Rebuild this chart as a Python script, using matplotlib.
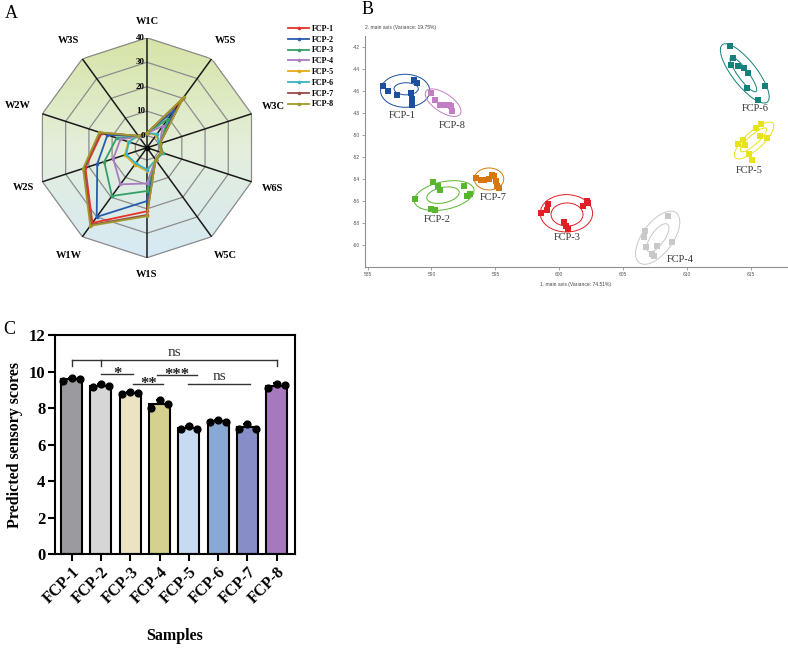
import numpy as np
import matplotlib
matplotlib.use('Agg')
import matplotlib.pyplot as plt
from matplotlib.patches import Ellipse
from matplotlib.colors import LinearSegmentedColormap

plt.rcParams['font.family'] = ['Liberation Serif', 'DejaVu Serif']

samples = ['FCP-1', 'FCP-2', 'FCP-3', 'FCP-4', 'FCP-5', 'FCP-6', 'FCP-7', 'FCP-8']

# ---- A: e-nose radar ----
sensors = ['W1C', 'W5S', 'W3C', 'W6S', 'W5C', 'W1S', 'W1W', 'W2S', 'W2W', 'W3S']
radar_fcp1 = [1.0, 19.0, 0.5, 1.2, 1.0, 21.0, 33.0, 21.5, 14.5, 1.0]
radar_fcp2 = [1.0, 14.0, 0.5, 1.2, 1.0, 16.8, 30.0, 16.4, 12.0, 0.8]
radar_fcp3 = [1.0, 9.5, 0.8, 1.8, 1.2, 12.7, 19.4, 13.4, 8.0, 0.5]
radar_fcp4 = [1.0, 6.0, 0.5, 1.2, 1.0, 9.6, 13.5, 9.5, 6.4, 0.5]
radar_fcp5 = [1.0, 1.5, 0.3, 1.0, 1.0, 4.5, 3.5, 4.5, 3.0, 1.0]
radar_fcp6 = [1.0, 2.0, 0.3, 1.5, 1.2, 3.9, 2.8, 3.9, 2.8, 1.0]
radar_fcp7 = [1.0, 20.0, 0.5, 1.2, 1.0, 22.5, 34.0, 22.0, 15.0, 1.0]
radar_fcp8 = [1.0, 20.5, 0.5, 1.2, 1.0, 23.0, 34.5, 22.5, 15.5, 1.0]
radar_series = [radar_fcp1, radar_fcp2, radar_fcp3, radar_fcp4,
                radar_fcp5, radar_fcp6, radar_fcp7, radar_fcp8]
radar_colors = ['#e5332a', '#2a5cae', '#33a06a', '#a97bc4',
                '#e6a817', '#3bb3c3', '#9b4a4a', '#a09a2c']
radar_rings = [0, 10, 20, 30, 40]

# ---- B: PCA ----
pc1_points = [
    [586.2, 586.6, 587.3, 588.4, 588.6, 588.9, 588.5, 588.5],
    [588.7, 590.1, 590.5, 590.7, 589.95, 590.3, 592.55, 592.8, 593.0],
    [598.6, 599.05, 599.15, 600.35, 600.5, 600.7, 601.85, 602.15, 602.25],
    [606.7, 606.6, 606.8, 607.6, 607.25, 607.4, 608.5, 608.8],
    [614.0, 614.5, 614.35, 614.85, 615.05, 615.4, 615.8, 615.7, 616.2],
    [613.35, 613.55, 613.45, 614.0, 614.45, 614.75, 614.7, 616.05, 615.5],
    [593.45, 593.85, 594.1, 594.5, 594.7, 594.9, 595.05, 595.15, 595.25],
    [590.0, 590.3, 590.7, 591.1, 591.4, 591.5, 591.6],
]
pc2_points = [
    [-45.55, -45.98, -46.34, -46.22, -45.01, -45.25, -46.76, -47.27],
    [-55.8, -54.3, -54.6, -55.0, -56.75, -56.85, -54.65, -55.55, -55.4],
    [-57.05, -56.85, -56.3, -57.9, -58.25, -58.55, -56.45, -56.0, -56.15],
    [-58.7, -59.3, -60.2, -60.1, -60.8, -61.0, -57.35, -59.75],
    [-50.85, -50.95, -50.45, -51.7, -52.3, -49.4, -49.0, -50.05, -50.3],
    [-41.9, -43.0, -43.6, -43.7, -43.95, -44.35, -45.7, -45.55, -46.85],
    [-53.9, -54.05, -54.1, -54.0, -53.6, -53.75, -54.2, -54.65, -54.8],
    [-46.2, -46.8, -47.25, -47.3, -47.3, -47.4, -47.8],
]
pca_colors = ['#1c4fa0', '#5ab52e', '#e31e24', '#c8c8c8',
              '#e8e21c', '#16807a', '#d7780f', '#c27ec2']
ell_cx = [587.94, 590.99, 600.55, 607.69, 615.23, 614.5, 594.5, 590.91]
ell_cy = [-45.98, -55.51, -57.12, -59.34, -50.5, -44.4, -54.0, -47.06]
ell_w = [3.85, 4.8, 4.1, 5.4, 4.3, 6.3, 2.3, 3.4]
ell_h = [3.0, 2.5, 3.4, 2.5, 1.5, 2.0, 2.0, 1.6]
ell_ang = [0, 15, 0, 60, 48, -57, 0, -40]
inner_cx = [588.02, 590.9, 600.6, 607.7, 615.18, 614.39, None, None]
inner_cy = [-45.8, -55.47, -57.23, -59.35, -50.44, -44.49, None, None]
inner_w = [1.9, 2.6, 2.5, 2.9, 2.9, 3.7, None, None]
inner_h = [1.1, 1.4, 2.1, 1.1, 0.8, 0.85, None, None]
inner_ang = [0, 15, 0, 60, 47, -58, None, None]
label_x = [587.68, 590.47, 600.62, 609.48, 614.87, 615.34, 594.84, 591.59]
label_y = [-48.27, -57.72, -59.35, -61.34, -53.2, -47.63, -55.7, -49.17]

# ---- C: predicted sensory scores ----
score_reps = [
    [9.5, 9.65, 9.58],
    [9.14, 9.32, 9.22],
    [8.78, 8.89, 8.82],
    [8.0, 8.45, 8.2],
    [6.84, 7.03, 6.86],
    [7.24, 7.35, 7.26],
    [6.84, 7.13, 6.84],
    [9.09, 9.32, 9.27],
]
bar_colors = ['#9b9b9f', '#d6d6d6', '#ebe3c3', '#d5d08d',
              '#c6dbf1', '#88a9d4', '#878dc6', '#a679bf']
sig_x0 = [1.0, 2.1, 2.9, 3.99]
sig_x1 = [2.1, 3.13, 4.28, 6.08]
sig_y = [9.87, 9.32, 9.82, 9.32]
sig_text = ['*', '**', '***', 'ns']
ns_bracket_x = [0, 1, 7]
ns_bracket_top = 10.64
ns_bracket_drop = 10.3

fig = plt.figure(figsize=(7.88, 6.51), dpi=100)

# ================= A =================
ax_a = fig.add_axes([0.047, 0.604, 0.279, 0.338], projection='polar')
ax_a.set_theta_zero_location('N')
ax_a.set_theta_direction(-1)

n = len(sensors)
theta = np.deg2rad(np.arange(n) * 360 / n)
theta_c = np.append(theta, theta[0])

# gradient fill inside the decagon
bg_cmap = LinearSegmentedColormap.from_list('bg', ['#d6e9f4', '#e4eedb', '#d6e4a6'])
seg = 2 * np.pi / n
t_mesh = np.linspace(0, 2 * np.pi, 721)
f_mesh = np.linspace(0, 1, 40)
T, F = np.meshgrid(t_mesh, f_mesh)
D = 45 * np.cos(seg / 2) / np.cos((T % seg) - seg / 2)
dist = F * D
ax_a.pcolormesh(T, -5 + dist, dist * np.cos(T), cmap=bg_cmap, vmin=-45, vmax=45,
                shading='gouraud', zorder=0)

for v in radar_rings:
    ax_a.plot(theta_c, [v] * (n + 1), color='#8c8c8c', lw=0.9, zorder=1)
for t in theta:
    ax_a.plot([t, t], [-5, 40], color='#1a1a1a', lw=1.1, zorder=2)

for vals, col, name in zip(radar_series, radar_colors, samples):
    ax_a.plot(theta_c, vals + [vals[0]], color=col, lw=1.3, marker='o', ms=1.6,
              label=name, zorder=3)
ax_a.plot(0, -5, 'o', color='black', ms=3, zorder=4)

for v in radar_rings:
    ax_a.annotate(str(v), xy=(0, v), xytext=(-1.5, 0), textcoords='offset points',
                  ha='right', va='center', fontsize=6.5, fontweight='bold', zorder=5)
label_r = [46.5, 49.5, 49.5, 49.0, 49.5, 47.0, 49.5, 48.0, 50.5, 49.5]
for t, name, r in zip(theta, sensors, label_r):
    ax_a.text(t, r, name, ha='center', va='center', fontsize=7.5,
              fontweight='bold', clip_on=False)

ax_a.set_ylim(-5, 40)
ax_a.grid(False)
ax_a.set_xticks([])
ax_a.set_yticks([])
ax_a.spines['polar'].set_visible(False)
ax_a.patch.set_visible(False)

ax_a.legend(loc='upper left', bbox_to_anchor=(0.366, 0.962), bbox_transform=fig.transFigure,
            frameon=False, prop=dict(weight='bold', size=5.8), handlelength=2.6,
            labelspacing=0.35, handletextpad=0.3, borderaxespad=0, borderpad=0)

# ================= B =================
ax_b = fig.add_axes([0.4632, 0.5899, 0.5355, 0.3548])
for i, name in enumerate(samples):
    col = pca_colors[i]
    ax_b.add_patch(Ellipse((ell_cx[i], ell_cy[i]), ell_w[i], ell_h[i], angle=ell_ang[i],
                           fill=False, ec=col, lw=0.7, zorder=2))
    if inner_w[i] is not None:
        ax_b.add_patch(Ellipse((inner_cx[i], inner_cy[i]), inner_w[i], inner_h[i],
                               angle=inner_ang[i], fill=False, ec=col, lw=0.7, zorder=2))
    ax_b.scatter(pc1_points[i], pc2_points[i], marker='s', s=16, color=col,
                 linewidths=0, zorder=3)
    ax_b.text(label_x[i], label_y[i], name, ha='center', va='center',
              fontsize=7.5, color='#333333')

ax_b.set_xlim(584.8, 617.8)
ax_b.set_ylim(-62, -41)
for s in ['top', 'right']:
    ax_b.spines[s].set_visible(False)
for s in ['left', 'bottom']:
    ax_b.spines[s].set_color('#909090')
    ax_b.spines[s].set_linewidth(0.8)
xt = np.arange(585, 616, 5)
yt = np.arange(-42, -61, -2)
ax_b.set_xticks(xt, [str(v) for v in xt], fontfamily='Liberation Sans', fontsize=3.5, color='#555555')
ax_b.set_yticks(yt, [str(v) for v in yt], fontfamily='Liberation Sans', fontsize=3.5, color='#555555')
ax_b.tick_params(length=2, width=0.6, color='#909090', pad=1.5)
ax_b.text(0.5, -0.075, '1. main axis (Variance: 74.51%)', transform=ax_b.transAxes,
          ha='center', va='center', fontsize=3.6, family='Liberation Sans', color='#444444')
ax_b.text(0.0, 1.035, '2. main axis (Variance: 19.75%)', transform=ax_b.transAxes,
          ha='left', va='center', fontsize=3.6, family='Liberation Sans', color='#444444')

# ================= C =================
ax_c = fig.add_axes([0.0698, 0.149, 0.3046, 0.3364])
x = np.arange(len(samples))
means = np.array([np.mean(r) for r in score_reps])
sds = np.array([np.std(r, ddof=1) for r in score_reps])
ax_c.bar(x, means, width=0.72, color=bar_colors, edgecolor='black', linewidth=1.5, zorder=2)
ax_c.errorbar(x, means, yerr=[np.zeros(len(x)), sds], fmt='none', ecolor='black',
              elinewidth=1.3, capsize=3, capthick=1.3, zorder=3)
for i, reps in enumerate(score_reps):
    ax_c.scatter(x[i] + np.array([-0.28, 0, 0.28]), reps, s=24, color='black', zorder=4)

# significance marks
ax_c.plot([ns_bracket_x[0], ns_bracket_x[-1]], [ns_bracket_top] * 2, color='#333333', lw=1)
for bx in ns_bracket_x:
    ax_c.plot([bx, bx], [ns_bracket_drop, ns_bracket_top], color='#333333', lw=1)
ax_c.text((ns_bracket_x[0] + ns_bracket_x[-1]) / 2, ns_bracket_top + 0.03, 'ns',
          ha='center', va='bottom', fontsize=11, color='#333333')
for x0, x1, y, lab in zip(sig_x0, sig_x1, sig_y, sig_text):
    ax_c.plot([x0, x1], [y, y], color='#333333', lw=1)
    if lab == 'ns':
        ax_c.text((x0 + x1) / 2, y + 0.03, lab, ha='center', va='bottom',
                  fontsize=11, color='#333333')
    else:
        ax_c.text((x0 + x1) / 2, y - 0.25, lab, ha='center', va='baseline',
                  fontsize=12, fontweight='bold', color='#222222')

ax_c.set_xlim(-0.57, 7.63)
ax_c.set_ylim(0, 12)
ax_c.set_yticks(np.arange(0, 13, 2))
ax_c.set_xticks(x)
ax_c.set_xticklabels(samples, rotation=45, ha='right', rotation_mode='anchor',
                     fontsize=11.5, fontweight='bold')
for lbl in ax_c.get_yticklabels():
    lbl.set_fontsize(12)
    lbl.set_fontweight('bold')
for s in ax_c.spines.values():
    s.set_linewidth(1.5)
ax_c.tick_params(width=1.5, length=5, pad=2)
ax_c.set_ylabel('Predicted sensory scores', fontsize=11.5, fontweight='bold')
ax_c.set_xlabel('Samples', fontsize=11.5, fontweight='bold')
ax_c.yaxis.set_label_coords(-0.135, 0.5)
ax_c.xaxis.set_label_coords(0.5, -0.34)

fig.text(0.006, 0.992, 'A', fontsize=13, va='top', ha='left')
fig.text(0.459, 0.998, 'B', fontsize=13, va='top', ha='left')
fig.text(0.004, 0.507, 'C', fontsize=13, va='top', ha='left')

fig.savefig('out.png', dpi=100)
